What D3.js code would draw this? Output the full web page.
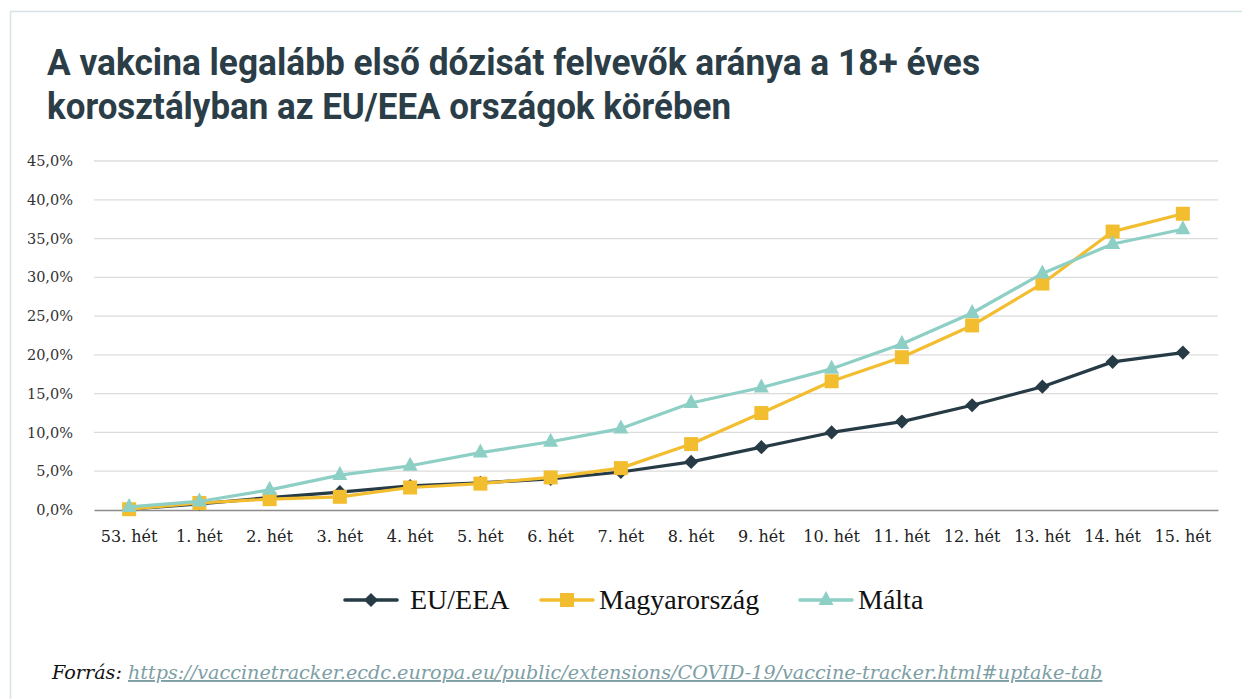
<!DOCTYPE html>
<html>
<head>
<meta charset="utf-8">
<script src="https://cdn.jsdelivr.net/npm/d3@7"></script>
<style>
  html, body { margin: 0; padding: 0; background: #fff; }
  svg { display: block; }
</style>
</head>
<body>
<svg id="chart" width="1242" height="699"></svg>
<script>
const categories = ["53. hét","1. hét","2. hét","3. hét","4. hét","5. hét","6. hét","7. hét","8. hét","9. hét","10. hét","11. hét","12. hét","13. hét","14. hét","15. hét"];
const euValues = [0.1, 0.8, 1.6, 2.3, 3.1, 3.5, 4.0, 4.9, 6.2, 8.1, 10.0, 11.4, 13.5, 15.9, 19.1, 20.3];
const huValues = [0.1, 0.9, 1.4, 1.7, 2.9, 3.4, 4.2, 5.4, 8.5, 12.5, 16.6, 19.7, 23.8, 29.2, 35.9, 38.2];
const mtValues = [0.4, 1.1, 2.6, 4.5, 5.7, 7.4, 8.8, 10.5, 13.8, 15.8, 18.2, 21.4, 25.4, 30.5, 34.3, 36.2];
const yTicks = [0, 5, 10, 15, 20, 25, 30, 35, 40, 45];
const seriesNames = ["EU/EEA", "Magyarország", "Málta"];
const titleLines = ["A vakcina legalább első dózisát felvevők aránya a 18+ éves", "korosztályban az EU/EEA országok körében"];
const sourceLabel = "Forrás:";
const sourceUrl = "https://vaccinetracker.ecdc.europa.eu/public/extensions/COVID-19/vaccine-tracker.html#uptake-tab";

const svg = d3.select("#chart");
const serif = "'DejaVu Serif', 'Liberation Serif', serif";
const serif2 = "'Liberation Serif', 'DejaVu Serif', serif";

function fitWidth(sel, target) {
  const w = sel.node().getComputedTextLength();
  const fs = parseFloat(sel.attr("font-size"));
  sel.attr("font-size", fs * target / w);
}

// frame
svg.append("path").attr("d", "M10.5,699 L10.5,11.5 L1242,11.5")
  .attr("fill", "none").attr("stroke", "#d6e4e7").attr("stroke-width", 1.5);

// title
const titleWidths = [933, 684];
titleLines.forEach((t, i) => {
  svg.append("text").attr("x", 47).attr("y", 75 + i * 44)
    .attr("font-family", "Roboto, 'Open Sans', sans-serif").attr("font-weight", 700)
    .attr("font-size", 36).attr("fill", "#2b3d47")
    .attr("textLength", titleWidths[i]).attr("lengthAdjust", "spacingAndGlyphs")
    .text(t);
});

const plot = { left: 94, right: 1218, top: 161, bottom: 510 };
const x = d3.scaleBand().domain(categories).range([plot.left, plot.right]);
const y = d3.scaleLinear().domain([0, 45]).range([plot.bottom, plot.top]);

// gridlines
svg.append("g").selectAll("line").data(yTicks.filter(d => d > 0)).join("line")
  .attr("x1", plot.left).attr("x2", plot.right)
  .attr("y1", d => y(d)).attr("y2", d => y(d))
  .attr("stroke", "#dcdcdc").attr("stroke-width", 1.3);

// y axis
const yAxis = svg.append("g").attr("transform", `translate(${plot.left},0)`)
  .call(d3.axisLeft(y).tickValues(yTicks).tickSize(0).tickPadding(21)
    .tickFormat(d => d.toFixed(1).replace(".", ",") + "%"));
yAxis.select(".domain").remove();
yAxis.selectAll("text").attr("font-family", serif).attr("font-size", 14.5).attr("fill", "#333");

// x axis
const xAxis = svg.append("g").attr("transform", `translate(0,${plot.bottom})`)
  .call(d3.axisBottom(x).tickSize(0).tickPadding(21));
xAxis.select(".domain").attr("stroke", "#8c8c8c").attr("stroke-width", 1.3);
xAxis.selectAll("text").attr("font-family", serif).attr("font-size", 16).attr("fill", "#222");

const colors = ["#263b45", "#f2bd2f", "#8ecfc5"];
const allSeries = [euValues, huValues, mtValues];
const markerFor = [
  g => g.append("rect").attr("x", -5).attr("y", -5).attr("width", 10).attr("height", 10).attr("transform", "rotate(45)"),
  g => g.append("rect").attr("x", -7).attr("y", -7).attr("width", 14).attr("height", 14),
  g => g.append("path").attr("d", "M0,-9 L7.5,5 L-7.5,5 Z")
];
const line = d3.line().x((d, i) => x(categories[i]) + x.bandwidth() / 2).y(d => y(d));

[0, 1, 2].forEach(si => {
  const g = svg.append("g");
  g.append("path").datum(allSeries[si]).attr("d", line)
    .attr("fill", "none").attr("stroke", colors[si]).attr("stroke-width", 3.2)
    .attr("stroke-linejoin", "round");
  g.selectAll("g.m").data(allSeries[si]).join("g").attr("class", "m")
    .attr("transform", (d, i) => `translate(${x(categories[i]) + x.bandwidth() / 2},${y(d)})`)
    .attr("fill", colors[si])
    .each(function () { markerFor[si](d3.select(this)); });
});

// legend
const legendX = [345, 541, 800];
const legendTextX = [410, 599, 858];
const legendY = 600;
seriesNames.forEach((name, i) => {
  const g = svg.append("g").attr("transform", `translate(${legendX[i]},${legendY})`);
  g.append("line").attr("x1", 0).attr("x2", 52).attr("y1", 0).attr("y2", 0)
    .attr("stroke", colors[i]).attr("stroke-width", 3.6).attr("stroke-linecap", "round");
  const mg = g.append("g").attr("transform", "translate(26,0)").attr("fill", colors[i]);
  markerFor[i](mg);
  svg.append("text").attr("x", legendTextX[i]).attr("y", legendY + 9).attr("font-family", serif2)
    .attr("font-size", 28).attr("fill", "#111").text(name);
});

// source
const src = svg.append("text").attr("x", 52).attr("y", 679)
  .attr("font-family", serif).attr("font-style", "italic").attr("font-size", 18);
src.append("tspan").attr("fill", "#111").text(sourceLabel + " ");
src.append("tspan").attr("fill", "#7d9ea4").attr("text-decoration", "underline").text(sourceUrl);
fitWidth(src, 1051);
</script>
</body>
</html>
